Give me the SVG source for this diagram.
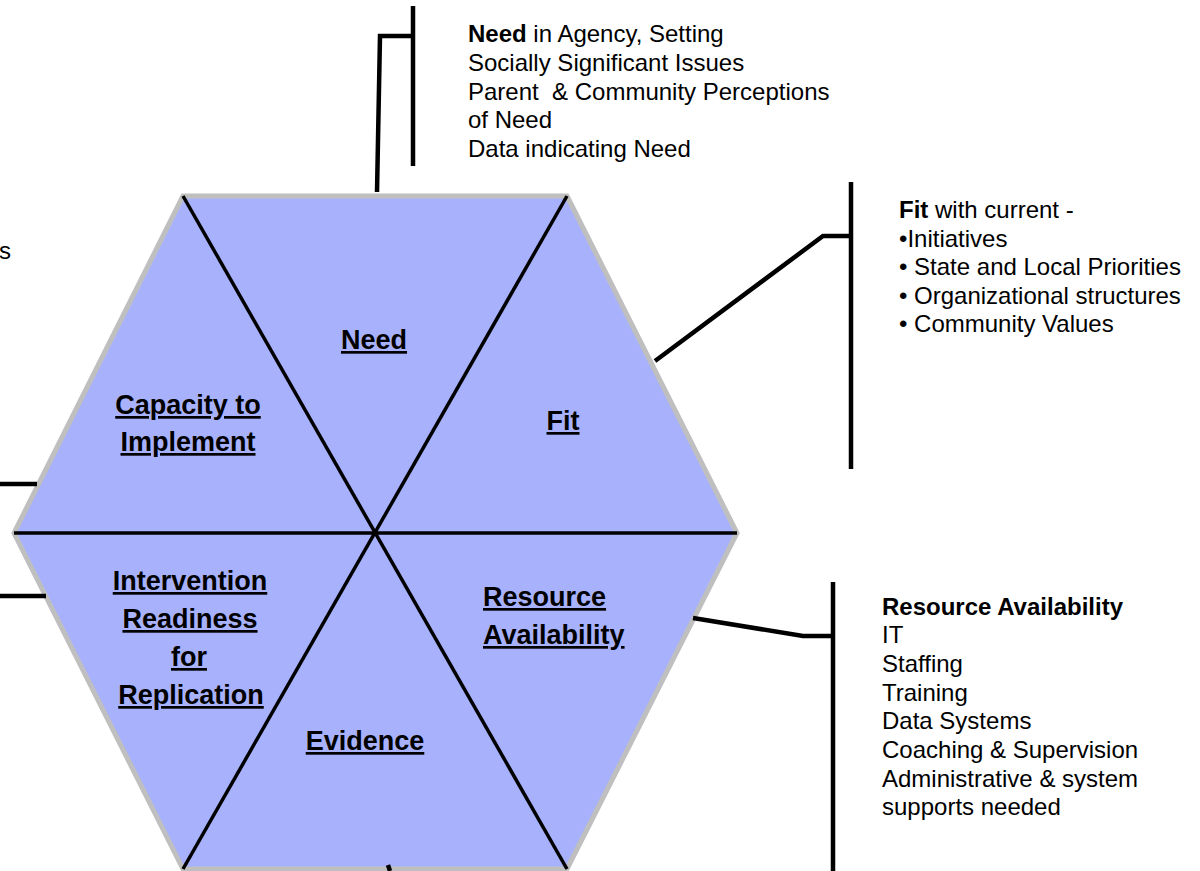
<svg xmlns="http://www.w3.org/2000/svg" width="1200" height="871" viewBox="0 0 1200 871">
<style>
.lbl{font-family:"Liberation Sans",Arial,sans-serif;font-weight:bold;font-size:27px;fill:#000;text-decoration:underline;text-anchor:middle}
.txt{font-family:"Liberation Sans",Arial,sans-serif;font-size:24px;fill:#000;white-space:pre}
.b{font-weight:bold}
.div{stroke:#000;stroke-width:3.5;fill:none}
.con{stroke:#000;stroke-width:4.5;fill:none;stroke-linejoin:miter}
</style>
<rect width="1200" height="871" fill="#fff"/>
<g id="hexagon">
<polygon points="183,196 567,196 737,533 567,869 183,869 14,533" fill="#a8b2fc" stroke="#bfbfbf" stroke-width="5"/>
<line class="div" x1="14" y1="533" x2="737" y2="533"/>
<line class="div" x1="183" y1="196" x2="567" y2="869"/>
<line class="div" x1="567" y1="196" x2="183" y2="869"/>
</g>
<g id="need"><text class="lbl" x="374" y="349">Need</text></g>
<g id="capacity"><text class="lbl" x="188" y="414">Capacity to</text><text class="lbl" x="188" y="451">Implement</text></g>
<g id="fit"><text class="lbl" x="563" y="430">Fit</text></g>
<g id="intervention"><text class="lbl" x="190" y="590">Intervention</text><text class="lbl" x="190" y="628">Readiness</text><text class="lbl" x="189" y="666">for</text><text class="lbl" x="191" y="704">Replication</text></g>
<g id="resource"><text class="lbl" x="483" y="606" style="text-anchor:start">Resource</text><text class="lbl" x="483" y="644" style="text-anchor:start">Availability</text></g>
<g id="evidence"><text class="lbl" x="365" y="750">Evidence</text></g>
<g id="connectors">
<line class="con" x1="413" y1="6" x2="413" y2="166"/>
<polyline class="con" points="377,192 380,36 413,36"/>
<line class="con" x1="851" y1="182" x2="851" y2="469"/>
<polyline class="con" points="655,361 823,236 851,236"/>
<line class="con" x1="833" y1="582" x2="833" y2="871"/>
<polyline class="con" points="693,618 803,636 833,636"/>
<line class="con" x1="0" y1="484" x2="37" y2="484"/>
<line class="con" x1="0" y1="596" x2="46" y2="596"/>
<line class="con" x1="388" y1="865" x2="390" y2="871"/>
</g>
<g id="need-text" class="txt">
<text x="468" y="42"><tspan class="b">Need</tspan> in Agency, Setting</text>
<text x="468" y="71">Socially Significant Issues</text>
<text x="468" y="100" xml:space="preserve">Parent  &amp; Community Perceptions</text>
<text x="468" y="128">of Need</text>
<text x="468" y="157">Data indicating Need</text>
</g>
<g id="fit-text" class="txt">
<text x="899" y="218"><tspan class="b">Fit</tspan> with current -</text>
<text x="899" y="247">•Initiatives</text>
<text x="899" y="275">• State and Local Priorities</text>
<text x="899" y="304">• Organizational structures</text>
<text x="899" y="332">• Community Values</text>
</g>
<g id="resource-text" class="txt">
<text x="882" y="615" class="b">Resource Availability</text>
<text x="882" y="643">IT</text>
<text x="882" y="672">Staffing</text>
<text x="882" y="701">Training</text>
<text x="882" y="729">Data Systems</text>
<text x="882" y="758">Coaching &amp; Supervision</text>
<text x="882" y="787">Administrative &amp; system</text>
<text x="882" y="815">supports needed</text>
</g>
<g id="left-text" class="txt"><text x="-1" y="259">s</text></g>
</svg>
